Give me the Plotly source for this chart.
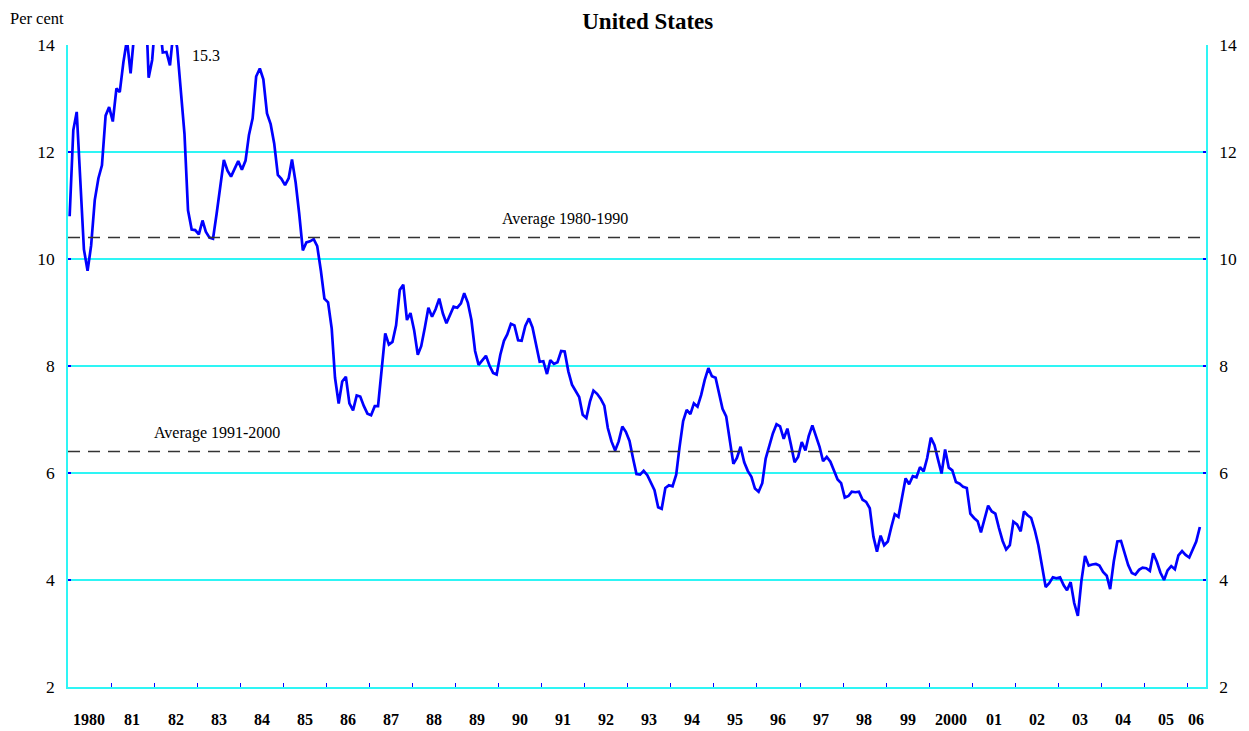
import pandas as pd
import plotly.graph_objects as go

# US 10-year government bond yield, monthly, per cent (Jan 1980 - Apr 2006)
y1980 = [10.80, 12.41, 12.75, 11.47, 10.18, 9.78, 10.25, 11.10, 11.51, 11.75, 12.68, 12.84]
y1981 = [12.57, 13.19, 13.12, 13.68, 14.10, 13.47, 14.28, 14.94, 15.32, 15.15, 13.39, 13.72]
y1982 = [14.59, 14.43, 13.86, 13.87, 13.62, 14.30, 13.95, 13.06, 12.34, 10.91, 10.55, 10.54]
y1983 = [10.46, 10.72, 10.51, 10.40, 10.38, 10.85, 11.38, 11.85, 11.65, 11.54, 11.69, 11.83]
y1984 = [11.67, 11.84, 12.32, 12.63, 13.41, 13.56, 13.36, 12.72, 12.52, 12.16, 11.57, 11.50]
y1985 = [11.38, 11.51, 11.86, 11.43, 10.85, 10.16, 10.31, 10.33, 10.37, 10.24, 9.78, 9.26]
y1986 = [9.19, 8.70, 7.78, 7.30, 7.71, 7.80, 7.30, 7.17, 7.45, 7.43, 7.25, 7.11]
y1987 = [7.08, 7.25, 7.25, 8.02, 8.61, 8.40, 8.45, 8.76, 9.42, 9.52, 8.86, 8.99]
y1988 = [8.67, 8.21, 8.37, 8.72, 9.09, 8.92, 9.06, 9.26, 8.98, 8.80, 8.96, 9.11]
y1989 = [9.09, 9.17, 9.36, 9.18, 8.86, 8.28, 8.02, 8.11, 8.19, 8.01, 7.87, 7.84]
y1990 = [8.21, 8.47, 8.59, 8.79, 8.76, 8.48, 8.47, 8.75, 8.89, 8.72, 8.39, 8.08]
y1991 = [8.09, 7.85, 8.11, 8.04, 8.07, 8.28, 8.27, 7.90, 7.65, 7.53, 7.42, 7.09]
y1992 = [7.03, 7.34, 7.54, 7.48, 7.39, 7.26, 6.84, 6.59, 6.42, 6.59, 6.87, 6.77]
y1993 = [6.60, 6.26, 5.98, 5.97, 6.04, 5.96, 5.81, 5.68, 5.36, 5.33, 5.72, 5.77]
y1994 = [5.75, 5.97, 6.48, 6.97, 7.18, 7.10, 7.30, 7.24, 7.46, 7.74, 7.96, 7.81]
y1995 = [7.78, 7.47, 7.20, 7.06, 6.63, 6.17, 6.28, 6.49, 6.20, 6.04, 5.93, 5.71]
y1996 = [5.65, 5.81, 6.27, 6.51, 6.74, 6.91, 6.87, 6.64, 6.83, 6.53, 6.20, 6.30]
y1997 = [6.58, 6.42, 6.69, 6.89, 6.71, 6.49, 6.22, 6.30, 6.21, 6.03, 5.88, 5.81]
y1998 = [5.54, 5.57, 5.65, 5.64, 5.65, 5.50, 5.46, 5.34, 4.81, 4.53, 4.83, 4.65]
y1999 = [4.72, 5.00, 5.23, 5.18, 5.54, 5.90, 5.79, 5.94, 5.92, 6.11, 6.03, 6.28]
y2000 = [6.66, 6.52, 6.26, 5.99, 6.44, 6.10, 6.05, 5.83, 5.80, 5.74, 5.72, 5.24]
y2001 = [5.16, 5.10, 4.89, 5.14, 5.39, 5.28, 5.24, 4.97, 4.73, 4.57, 4.65, 5.09]
y2002 = [5.04, 4.91, 5.28, 5.21, 5.16, 4.93, 4.65, 4.26, 3.87, 3.94, 4.05, 4.03]
y2003 = [4.05, 3.90, 3.81, 3.96, 3.57, 3.33, 3.98, 4.45, 4.27, 4.29, 4.30, 4.27]
y2004 = [4.15, 4.08, 3.83, 4.35, 4.72, 4.73, 4.50, 4.28, 4.13, 4.10, 4.19, 4.23]
y2005 = [4.22, 4.17, 4.50, 4.34, 4.14, 4.00, 4.18, 4.26, 4.20, 4.46, 4.54, 4.47]
y2006 = [4.42, 4.57, 4.72, 4.99]

yields = (y1980 + y1981 + y1982 + y1983 + y1984 + y1985 + y1986 + y1987 + y1988 +
          y1989 + y1990 + y1991 + y1992 + y1993 + y1994 + y1995 + y1996 + y1997 +
          y1998 + y1999 + y2000 + y2001 + y2002 + y2003 + y2004 + y2005 + y2006)

years = list(range(1980, 2007))
year_labels = ["1980", "81", "82", "83", "84", "85", "86", "87", "88", "89", "90",
               "91", "92", "93", "94", "95", "96", "97", "98", "99", "2000",
               "01", "02", "03", "04", "05", "06"]

avg_values = [10.4, 6.4]
avg_labels = ["Average 1980-1990", "Average 1991-2000"]
peak_label = "15.3"

dates = pd.date_range("1980-01-01", periods=len(yields), freq="MS") + pd.Timedelta(days=14)

FONT = "Liberation Serif, Times New Roman, serif"
GRID = "#2EF5F5"
BLUE = "#0000FF"

fig = go.Figure()
fig.add_trace(go.Scatter(x=dates, y=yields, mode="lines",
                         line=dict(color=BLUE, width=2.7), showlegend=False,
                         hoverinfo="x+y"))
# invisible trace for the right-hand axis
fig.add_trace(go.Scatter(x=[dates[0]], y=[yields[0]], yaxis="y2", mode="lines",
                         line=dict(width=0), showlegend=False, hoverinfo="skip"))

shapes = []
for v in avg_values:
    shapes.append(dict(type="line", xref="paper", x0=0, x1=1, yref="y", y0=v, y1=v,
                       line=dict(color="#333333", width=1.5, dash="12px,8px"), layer="above"))

annotations = []
# year labels centred in each year
for yr, lab in zip(years, year_labels):
    xc = pd.Timestamp(f"{yr}-07-01") if yr < 2006 else pd.Timestamp("2006-03-10")
    annotations.append(dict(x=xc, y=0, xref="x", yref="paper", text=f"<b>{lab}</b>",
                            showarrow=False, yanchor="middle", yshift=-32,
                            font=dict(family=FONT, size=16, color="black")))
annotations += [
    dict(x=pd.Timestamp("1991-07-15"), y=avg_values[0], xref="x", yref="y", text=avg_labels[0],
         showarrow=False, yanchor="bottom", yshift=8, font=dict(family=FONT, size=16, color="black")),
    dict(x=pd.Timestamp("1983-06-15"), y=avg_values[1], xref="x", yref="y", text=avg_labels[1],
         showarrow=False, yanchor="bottom", yshift=8, font=dict(family=FONT, size=16, color="black")),
    dict(x=pd.Timestamp("1983-03-15"), y=14, xref="x", yref="y", text=peak_label,
         showarrow=False, yanchor="top", yshift=0, font=dict(family=FONT, size=16, color="black")),
    dict(x=-0.0271, y=1.042, xref="paper", yref="paper", text="Per cent", showarrow=False,
         xanchor="center", yanchor="middle", font=dict(family=FONT, size=16.5, color="black")),
]

yax_common = dict(range=[2, 14], tickvals=[2, 4, 6, 8, 10, 12, 14],
                  tickfont=dict(family=FONT, size=17.5, color="black"),
                  ticks="inside", ticklen=3, tickcolor=BLUE, tickwidth=1.5,
                  showline=True, linecolor=GRID, linewidth=1.5, zeroline=False,
                  ticklabelstandoff=8)

fig.update_layout(
    width=1241, height=723,
    margin=dict(l=60, r=38, t=37, b=44),
    paper_bgcolor="white", plot_bgcolor="white",
    title=dict(text="<b>United States</b>", x=0.5155, xanchor="center", y=0.982, yanchor="middle",
               font=dict(family=FONT, size=23, color="black")),
    xaxis=dict(type="date", range=["1980-01-01", "2006-06-06"],
               tickvals=[pd.Timestamp(f"{y}-01-01") for y in years[1:]],
               showticklabels=False, ticks="inside", ticklen=4, tickcolor=BLUE, tickwidth=1,
               showline=True, linecolor=GRID, linewidth=1.5, showgrid=False, zeroline=False),
    yaxis=dict(**yax_common, side="left", showgrid=True, gridcolor=GRID, gridwidth=1.5),
    yaxis2=dict(**yax_common, side="right", overlaying="y", showgrid=False),
    shapes=shapes,
    annotations=annotations,
    showlegend=False,
)

fig.write_html("out.html")
